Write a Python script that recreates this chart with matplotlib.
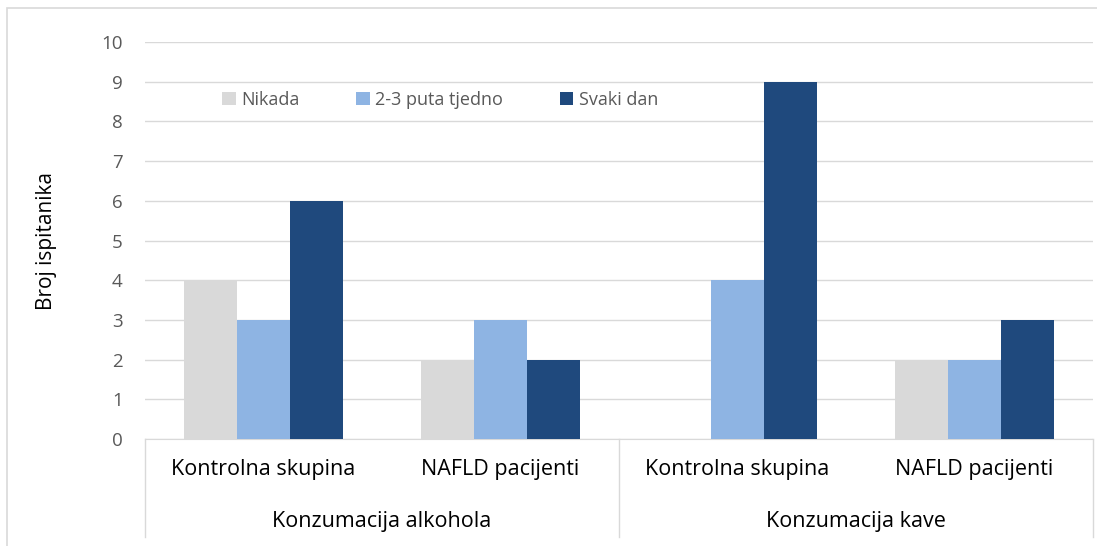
import matplotlib
matplotlib.use("Agg")
import matplotlib.pyplot as plt
from matplotlib.patches import Rectangle
import numpy as np

categories = ["Kontrolna skupina", "NAFLD pacijenti", "Kontrolna skupina", "NAFLD pacijenti"]
groups = ["Konzumacija alkohola", "Konzumacija kave"]
series_names = ["Nikada", "2-3 puta tjedno", "Svaki dan"]
nikada = [4, 2, 0, 2]
puta23 = [3, 3, 4, 2]
svaki = [6, 2, 9, 3]
colors = ["#D9D9D9", "#8EB4E3", "#1F497D"]

plt.rcParams['font.family'] = ['Open Sans', 'DejaVu Sans']

fig = plt.figure(figsize=(10.97, 5.46), dpi=100)
fig.patches.append(Rectangle((7/1097, -0.05), 1.1, 1.05 - 8/546, transform=fig.transFigure,
                             fill=False, edgecolor="#D9D9D9", linewidth=1.2))
L, R, T, B = 145, 1093, 42, 439
AW, AH = R - L, B - T
ax = fig.add_axes([L/1097, 1-B/546, AW/1097, AH/546])

x = np.arange(len(categories))
w = 0.225
for i, (vals, name, c) in enumerate(zip([nikada, puta23, svaki], series_names, colors)):
    ax.bar(x + (i-1)*w, vals, w, color=c, label=name, zorder=3)

ax.set_xlim(-0.5, 3.5)
ax.set_ylim(0, 10)
ax.set_yticks(range(0, 11))
ax.tick_params(axis='y', length=0, labelsize=13.5, labelcolor="#595959", pad=16)
ax.tick_params(axis='x', length=0)
ax.set_xticks([])
ax.grid(axis='y', color="#D9D9D9", linewidth=1.0, zorder=0)
for s in ["top", "right", "left"]:
    ax.spines[s].set_visible(False)
ax.spines["bottom"].set_color("#D9D9D9")

trans = ax.get_xaxis_transform()
for i, cat in enumerate(categories):
    ax.text(x[i], -30/AH, cat, transform=trans, ha='center', va='center', fontsize=15.5, color="#000000")
for j, g in enumerate(groups):
    ax.text(2*j + 0.5, -83/AH, g, transform=trans, ha='center', va='center', fontsize=15.5, color="#000000")
for xv in [-0.5, 1.5, 3.5]:
    ax.plot([xv, xv], [0, -98/AH], transform=trans, color="#D9D9D9", linewidth=1.0, clip_on=False)

ax.set_ylabel("Broj ispitanika", fontsize=15)
ax.yaxis.set_label_coords(-88/AW, 0.5)

leg = ax.legend(loc='center left', bbox_to_anchor=((222-L)/AW, (B-100)/AH), ncol=3, frameon=False,
                fontsize=13, handlelength=0.75, handleheight=0.75, handletextpad=0.3,
                columnspacing=3.15, borderpad=0, borderaxespad=0, labelcolor="#595959")

fig.savefig("out.png", dpi=100)
